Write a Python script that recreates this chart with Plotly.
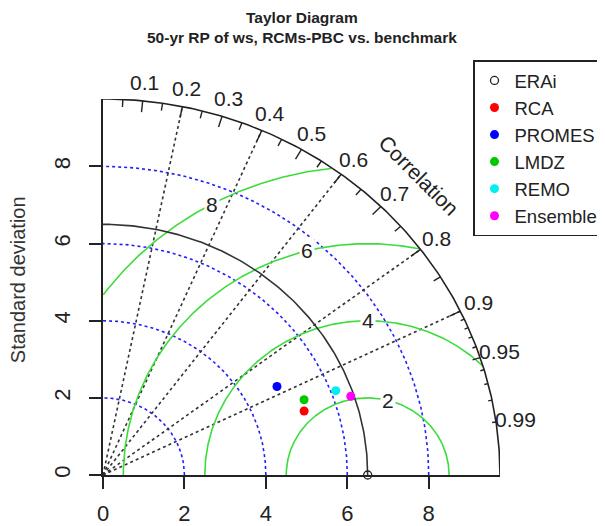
import numpy as np
import plotly.graph_objects as go

# ---------------- data ----------------
ref_name = "ERAi"
ref_sd = 6.5
model_names = ["RCA", "PROMES", "LMDZ", "REMO", "Ensemble"]
model_sd = [5.21, 4.85, 5.31, 6.12, 6.42]
model_corr = [0.948, 0.881, 0.930, 0.934, 0.948]
model_colors = ["#ff0000", "#0000ff", "#00c800", "#00f0f0", "#ff00ff"]

sd_ticks = [0, 2, 4, 6, 8]
sd_grid = [2, 4, 6, 8]
rms_levels = [2, 4, 6, 8]
corr_lines = [0.2, 0.4, 0.6, 0.8, 0.9]
corr_labels = [0.1, 0.2, 0.3, 0.4, 0.5, 0.6, 0.7, 0.8, 0.9, 0.95, 0.99]
corr_big = [0.1, 0.2, 0.3, 0.4, 0.5, 0.6, 0.7, 0.8, 0.9]
corr_med = [0.05, 0.15, 0.25, 0.35, 0.45, 0.55, 0.65, 0.75, 0.85, 0.95]
corr_small = [0.91, 0.92, 0.93, 0.94, 0.96, 0.97, 0.98, 0.99]

title_lines = ["Taylor Diagram", "50-yr RP of ws, RCMs-PBC vs. benchmark"]
ylabel = "Standard deviation"
corr_title = "Correlation"

# ---------------- styling / geometry ----------------
maxsd = 1.5 * ref_sd
FONT = "Liberation Sans, Arial, sans-serif"
DARK = "#222222"
GREEN = "#3ddc3d"
BLUE = "#2020ff"

# page body has an 8px default margin; compensate so the plot lands where the reference has it
OFF = 8
W, H = 605 - OFF, 526 - OFF
L, R, T, B = 103 - OFF, 105, 98.6 - OFF, 51
ph = H - T - B
pw = W - L - R


def py2paper(py):
    # screen pixel y -> paper fraction
    return (H - B - (py - OFF)) / ph


def px2paper(px):
    return (px - OFF - L) / pw


def d2p(v):
    # data value -> paper fraction (axis range is [0, maxsd])
    return v / maxsd


fig = go.Figure()

# sd grid circles (blue dotted)
th = np.linspace(0, np.pi / 2, 200)
for r in sd_grid:
    fig.add_trace(go.Scatter(x=r * np.cos(th), y=r * np.sin(th), mode="lines",
                             line=dict(color=BLUE, width=1.6, dash="dot"),
                             showlegend=False, hoverinfo="skip", cliponaxis=False))

# correlation radial lines (black dotted)
for c in corr_lines:
    a = np.arccos(c)
    fig.add_trace(go.Scatter(x=[0, maxsd * np.cos(a)], y=[0, maxsd * np.sin(a)], mode="lines",
                             line=dict(color="#333333", width=1.6, dash="dot"),
                             showlegend=False, hoverinfo="skip", cliponaxis=False))

# RMS difference arcs (green) centered on reference
tg = np.linspace(0, np.pi, 600)
for g in rms_levels:
    xc = ref_sd + g * np.cos(tg)
    yc = g * np.sin(tg)
    keep = (xc >= 0) & (xc ** 2 + yc ** 2 <= maxsd ** 2)
    fig.add_trace(go.Scatter(x=xc[keep], y=yc[keep], mode="lines",
                             line=dict(color=GREEN, width=1.6),
                             showlegend=False, hoverinfo="skip", cliponaxis=False))

# reference sd arc (solid)
fig.add_trace(go.Scatter(x=ref_sd * np.cos(th), y=ref_sd * np.sin(th), mode="lines",
                         line=dict(color="#333333", width=1.6),
                         showlegend=False, hoverinfo="skip", cliponaxis=False))
# outer arc
fig.add_trace(go.Scatter(x=maxsd * np.cos(th), y=maxsd * np.sin(th), mode="lines",
                         line=dict(color=DARK, width=1.6),
                         showlegend=False, hoverinfo="skip", cliponaxis=False))

# ticks on outer arc
tx, ty = [], []
for lst, f in ((corr_big, 0.97), (corr_med, 0.98), (corr_small, 0.99)):
    for c in lst:
        a = np.arccos(c)
        tx += [maxsd * np.cos(a), f * maxsd * np.cos(a), None]
        ty += [maxsd * np.sin(a), f * maxsd * np.sin(a), None]
fig.add_trace(go.Scatter(x=tx, y=ty, mode="lines", line=dict(color=DARK, width=1.4),
                         showlegend=False, hoverinfo="skip", cliponaxis=False))

# reference point
fig.add_trace(go.Scatter(x=[ref_sd], y=[0], mode="markers", name=ref_name,
                         marker=dict(symbol="circle-open", size=8, color=DARK,
                                     line=dict(width=1.3, color=DARK)),
                         cliponaxis=False))
# model points
for n, s, c, col in zip(model_names, model_sd, model_corr, model_colors):
    a = np.arccos(c)
    fig.add_trace(go.Scatter(x=[s * np.cos(a)], y=[s * np.sin(a)], mode="markers", name=n,
                             marker=dict(symbol="circle", size=9, color=col),
                             cliponaxis=False))

annotations = []
# correlation labels
for c in corr_labels:
    a = np.arccos(c)
    annotations.append(dict(x=d2p(1.05 * maxsd * np.cos(a)), y=d2p(1.05 * maxsd * np.sin(a)),
                            xref="paper", yref="paper", text=f"{c:g}", showarrow=False,
                            xanchor="center", yanchor="middle",
                            font=dict(size=21, color=DARK, family=FONT)))
annotations.append(dict(x=d2p(1.125 * maxsd * np.cos(np.pi / 4)),
                        y=d2p(1.125 * maxsd * np.sin(np.pi / 4)),
                        xref="paper", yref="paper", text=corr_title, showarrow=False, textangle=45,
                        xanchor="center", yanchor="middle",
                        font=dict(size=21, color=DARK, family=FONT)))
# RMS labels (boxed)
rms_label_angles = [1.32, 1.57, 1.82, 2.07]
for g, ang in zip(rms_levels, rms_label_angles):
    annotations.append(dict(x=ref_sd + g * np.cos(ang), y=g * np.sin(ang), xref="x", yref="y",
                            text=str(g), showarrow=False, bgcolor="white", borderpad=1,
                            xanchor="center", yanchor="middle",
                            font=dict(size=21, color=DARK, family=FONT)))
# title (two lines)
annotations.append(dict(x=px2paper(302), y=py2paper(8), xref="paper", yref="paper",
                        text="<br>".join(f"<b>{t}</b>" for t in title_lines), showarrow=False,
                        xanchor="center", yanchor="top", align="center", borderpad=0,
                        font=dict(size=15.5, color=DARK, family=FONT)))
annotations.append(dict(x=px2paper(18), y=py2paper(280), xref="paper", yref="paper",
                        text=ylabel, showarrow=False, textangle=-90,
                        xanchor="center", yanchor="middle",
                        font=dict(size=20, color="#333333", family=FONT)))

axis_common = dict(showgrid=False, zeroline=False, showline=True, linecolor=DARK, linewidth=1.6,
                   ticks="outside", ticklen=12, tickwidth=1.5, tickcolor=DARK,
                   tickvals=sd_ticks, ticktext=[str(v) for v in sd_ticks],
                   tickfont=dict(size=22, color=DARK, family=FONT),
                   range=[0, maxsd], fixedrange=True, automargin=False)

fig.update_layout(
    width=W, height=H,
    margin=dict(l=L, r=R, t=T, b=B, pad=0, autoexpand=False),
    paper_bgcolor="white", plot_bgcolor="white",
    xaxis=dict(**axis_common, ticklabelstandoff=6),
    yaxis=dict(**axis_common, tickangle=-90, ticklabelstandoff=10),
    annotations=annotations,
    showlegend=True,
    legend=dict(x=px2paper(473), xanchor="left", y=py2paper(60), yanchor="top",
                bordercolor=DARK, borderwidth=1.5, bgcolor="white",
                font=dict(size=18.5, color=DARK, family=FONT), tracegroupgap=0),
    font=dict(family=FONT),
)

fig.write_html("out.html")
